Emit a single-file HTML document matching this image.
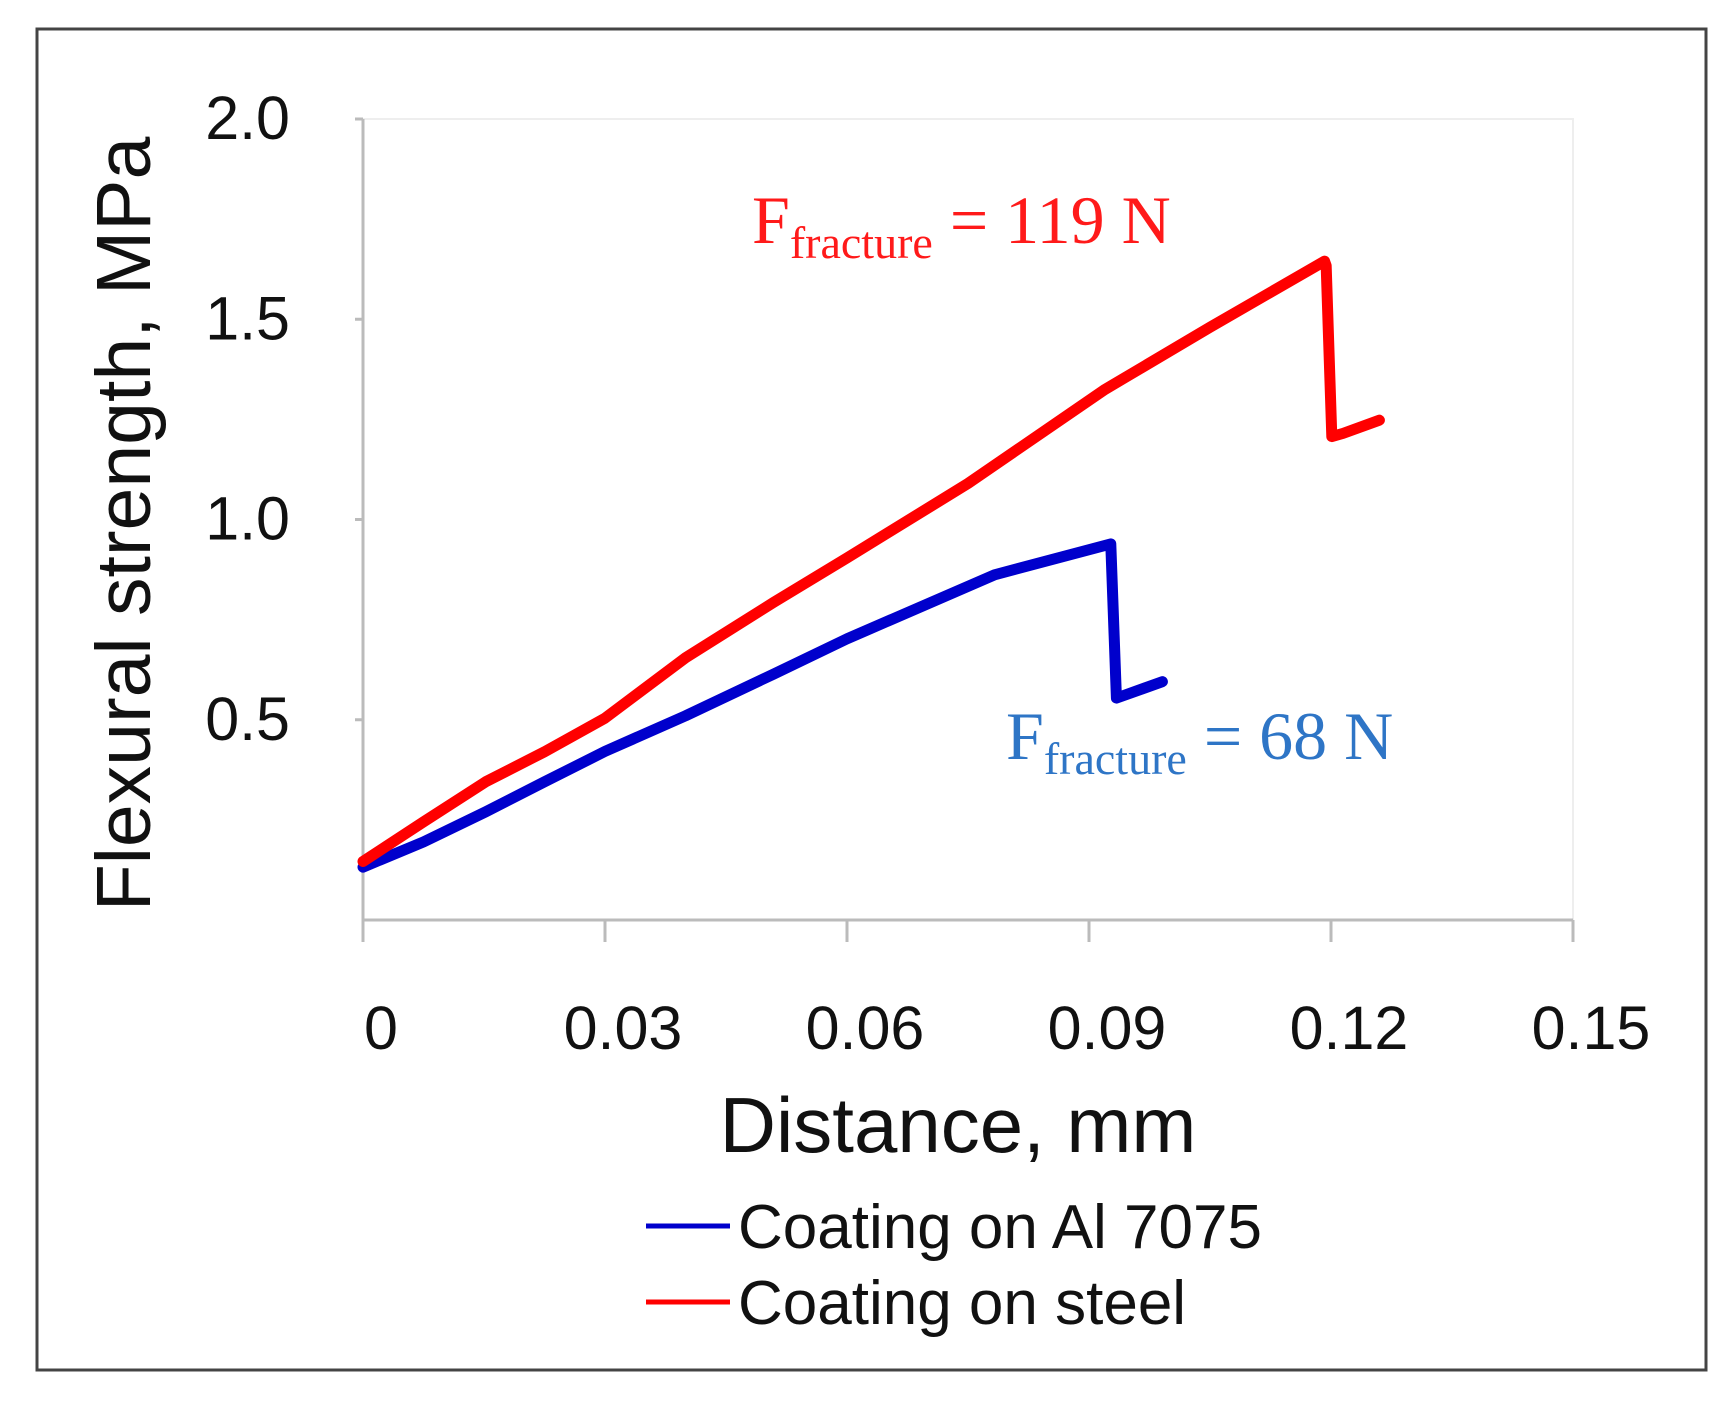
<!DOCTYPE html>
<html><head><meta charset="utf-8"><style>
body{margin:0;background:#fff;width:1731px;height:1414px;overflow:hidden}
svg text{font-family:"Liberation Sans",sans-serif}
</style></head><body>
<svg width="1731" height="1414">
<rect x="37" y="29" width="1669" height="1341" fill="#fff" stroke="#444" stroke-width="3"/>
<g id="axes"></g>
<g id="series"></g>
<text x="958" y="1152" font-size="78" text-anchor="middle" fill="#111">Distance, mm</text>
<text transform="translate(150,524) rotate(-90)" font-size="77" text-anchor="middle" fill="#111">Flexural strength, MPa</text>
<text x="752" y="243" font-size="68" fill="#ff1a1a" style="font-family:'Liberation Serif',serif">F<tspan font-size="46" dy="15">fracture</tspan><tspan dy="-15"> = 119 N</tspan></text>
<text x="1006" y="759" font-size="68" fill="#2e75c6" style="font-family:'Liberation Serif',serif">F<tspan font-size="46" dy="15">fracture</tspan><tspan dy="-15"> = 68 N</tspan></text>
<g>
<line x1="646" y1="1226" x2="730" y2="1226" stroke="#0000cc" stroke-width="5"/>
<text x="738" y="1248" font-size="62" fill="#111">Coating on Al 7075</text>
<line x1="646" y1="1302" x2="730" y2="1302" stroke="#ff0000" stroke-width="5"/>
<text x="738" y="1324" font-size="62" fill="#111">Coating on steel</text>
</g>
</svg>
<script>
const xTicks=[0,0.03,0.06,0.09,0.12,0.15];
const xTickLabels=["0","0.03","0.06","0.09","0.12","0.15"];
const yTicks=[0.5,1.0,1.5,2.0];
const yTickLabels=["0.5","1.0","1.5","2.0"];
const steelX=[0,0.0075,0.0152,0.0225,0.030,0.040,0.0509,0.060,0.075,0.092,0.105,0.1192,0.1194,0.1201,0.1215,0.126];
const steelY=[0.146,0.245,0.345,0.42,0.504,0.655,0.793,0.904,1.09,1.325,1.48,1.645,1.634,1.207,1.215,1.248];
const alX=[0,0.0075,0.0152,0.0225,0.030,0.040,0.0509,0.060,0.0783,0.0927,0.0934,0.0991];
const alY=[0.132,0.195,0.27,0.345,0.421,0.51,0.614,0.702,0.862,0.939,0.554,0.595];
const X0=363,X1=1573,Y0=920,Y1=119;
const sx=v=>X0+(v-0)/(0.15)*(X1-X0);
const sy=v=>Y0-(v-0)/(2.0)*(Y0-Y1);
const NS="http://www.w3.org/2000/svg";
const axes=document.getElementById('axes');
function mk(t,a,p){const e=document.createElementNS(NS,t);for(const k in a)e.setAttribute(k,a[k]);p.appendChild(e);return e;}
const box=mk('rect',{x:X0,y:Y1,width:X1-X0,height:Y0-Y1,fill:'none',stroke:'#eee','stroke-width':2},axes);


const ya=mk('line',{x1:X0,y1:Y1,x2:X0,y2:Y0,stroke:'#bbb','stroke-width':3},axes);


const xa=mk('line',{x1:X0,y1:Y0,x2:X1,y2:Y0,stroke:'#bbb','stroke-width':3},axes);


xTicks.forEach((v,i)=>{
 const t=mk('line',{x1:sx(v),y1:Y0,x2:sx(v),y2:Y0+22,stroke:'#bbb','stroke-width':3},axes);
 
 
 const l=mk('text',{x:sx(v)+18,y:1049,'font-size':61,'text-anchor':'middle',fill:'#111'},axes);
 l.textContent=xTickLabels[i];
 
 
});
yTicks.forEach((v,i)=>{
 const t=mk('line',{x1:X0-8,y1:sy(v),x2:X0,y2:sy(v),stroke:'#bbb','stroke-width':3},axes);
 
 
 const l=mk('text',{x:290,y:sy(v)+20,'font-size':61,'text-anchor':'end',fill:'#111'},axes);
 l.textContent=yTickLabels[i];
 
 
});
const ser=document.getElementById('series');
function line(xs,ys,c,n){
 const p=mk('polyline',{points:xs.map((x,i)=>sx(x)+','+sy(ys[i])).join(' '),fill:'none',stroke:c,'stroke-width':11,'stroke-linejoin':'round','stroke-linecap':'round'},ser);
 
 
}
line(alX,alY,'#0000cc','al7075-line');
line(steelX,steelY,'#ff0000','steel-line');
</script>
</body></html>
